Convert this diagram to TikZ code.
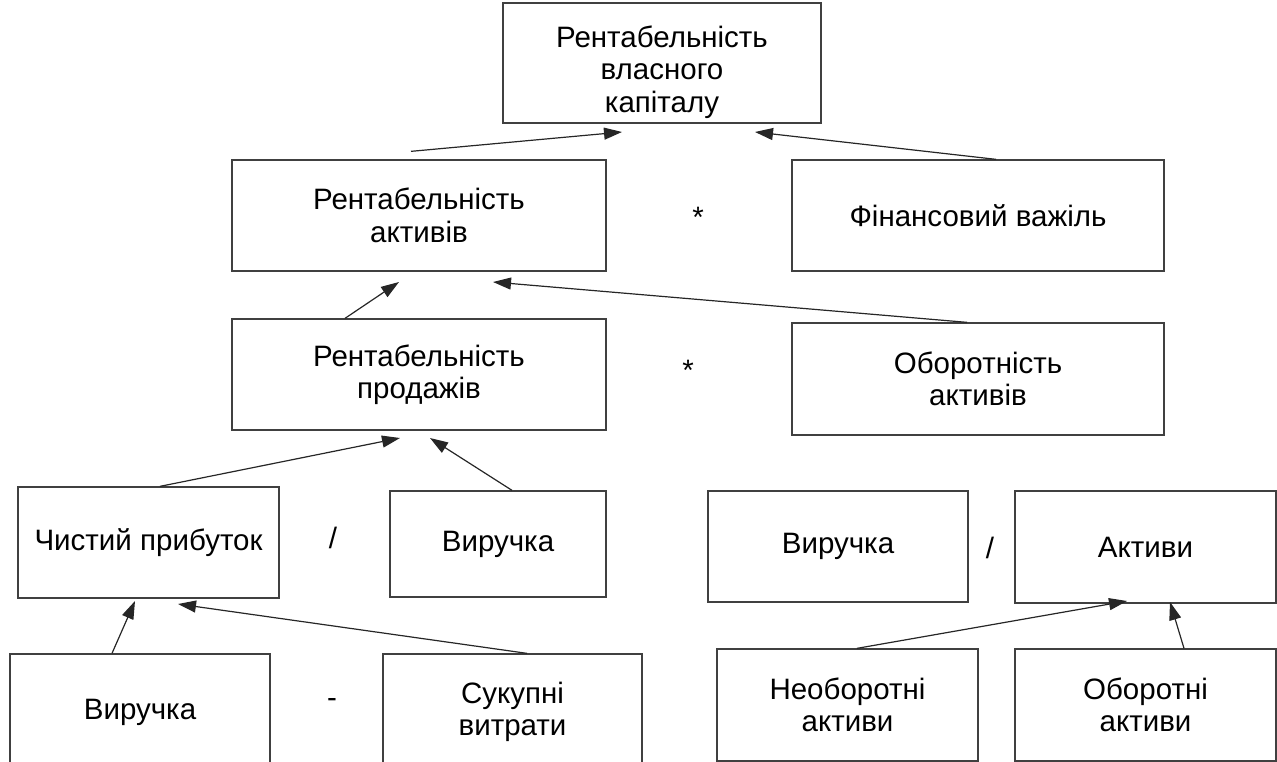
\documentclass[tikz,border=0pt]{standalone}
\usepackage{fontspec}
\setmainfont{Liberation Sans}
\usetikzlibrary{arrows.meta}
\tikzset{
  box/.style={draw=black!75, line width=1.3pt, fill=white, align=center, inner sep=0pt, font=\fontsize{29.5}{32.5}\selectfont},
  op/.style={font=\fontsize{29.5}{32.5}\selectfont, inner sep=0pt},
  arr/.style={draw=black!85, line width=1.2pt, -{Triangle[length=18pt,width=12pt]}}
}
\begin{document}
\begin{tikzpicture}[x=1pt,y=-1pt]
\useasboundingbox (0,0) rectangle (1277,762);
\clip (0,0) rectangle (1277,762);
% boxes
\node[box, minimum width=318pt, minimum height=120pt] (top) at (662,63) {\rule{0pt}{40pt}Рентабельність\\власного\\капіталу};
\node[box, minimum width=374pt, minimum height=111pt] (ra) at (419,215.5) {Рентабельність\\активів};
\node[box, minimum width=372pt, minimum height=111pt] (fv) at (978,215.5) {Фінансовий важіль};
\node[box, minimum width=374pt, minimum height=111pt] (rp) at (419,374.5) {Рентабельність\\продажів};
\node[box, minimum width=372pt, minimum height=112pt] (oa) at (978,379) {Оборотність\\активів};
\node[box, minimum width=261pt, minimum height=111pt] (cp) at (148.5,542.5) {Чистий прибуток};
\node[box, minimum width=216pt, minimum height=106pt] (v1) at (498,544) {Виручка};
\node[box, minimum width=260pt, minimum height=111pt] (v2) at (838,546.5) {Виручка};
\node[box, minimum width=261pt, minimum height=112pt] (ak) at (1145.5,547) {Активи};
\node[box, minimum width=260pt, minimum height=116pt] (v3) at (140,712) {Виручка};
\node[box, minimum width=259pt, minimum height=116pt] (sv) at (512.5,712) {Сукупні\\витрати};
\node[box, minimum width=261pt, minimum height=112pt] (na) at (847.5,705) {Необоротні\\активи};
\node[box, minimum width=261pt, minimum height=112pt] (ob) at (1145.5,705) {Оборотні\\активи};
% operators
\node[op] (o1) at (698,217) {*};
\node[op] (o2) at (688,370) {*};
\node[op] (o3) at (333,538) {/};
\node[op] (o4) at (332,703) {-};
\node[op] (o5) at (990,548) {/};
% arrow end points
\coordinate (t1) at (622,132);
\coordinate (t2) at (755,132);
\coordinate (t3) at (399,282);
\coordinate (t4) at (493,282);
\coordinate (t5) at (400,438);
\coordinate (t6) at (430,438);
\coordinate (t7) at (135,601);
\coordinate (t8) at (178,604);
\coordinate (t9) at (1127,601);
\coordinate (t10) at (1170,602);
% arrows
\draw[arr] ([xshift=-8pt,yshift=8pt]ra.north) -- (t1);
\draw[arr] ([xshift=18pt]fv.north) -- (t2);
\draw[arr] ([xshift=-74pt]rp.north) -- (t3);
\draw[arr] ([xshift=-11pt]oa.north) -- (t4);
\draw[arr] ([xshift=11.5pt]cp.north) -- (t5);
\draw[arr] ([xshift=14pt]v1.north) -- (t6);
\draw[arr] ([xshift=-28pt]v3.north) -- (t7);
\draw[arr] ([xshift=14.5pt]sv.north) -- (t8);
\draw[arr] ([xshift=9.5pt]na.north) -- (t9);
\draw[arr] ([xshift=38.5pt]ob.north) -- (t10);
\end{tikzpicture}
\end{document}
